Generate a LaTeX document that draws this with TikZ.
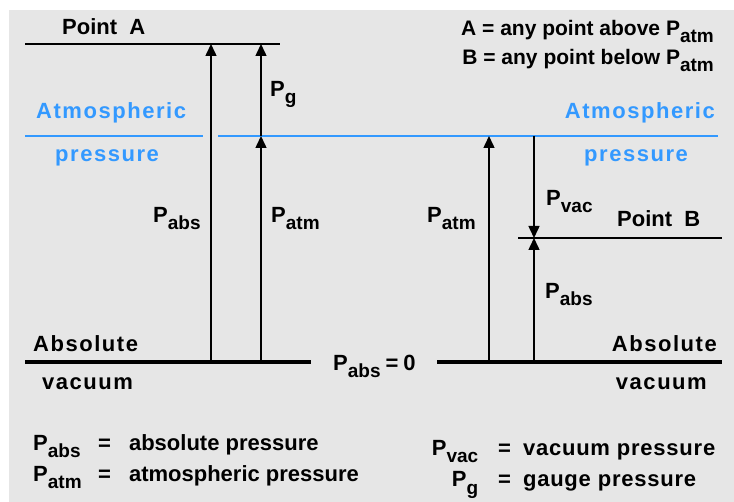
\documentclass[tikz,border=0pt]{standalone}
\usepackage{fontspec}
\setmainfont{Liberation Sans}
\newfontfamily\wideface[LetterSpace=7]{Liberation Sans}
\newfontfamily\keyface[LetterSpace=3.5]{Liberation Sans}
\usetikzlibrary{arrows.meta}
\definecolor{panel}{HTML}{E6E6E6}
\definecolor{atmo}{HTML}{3399FF}
\newcommand{\Psub}[1]{P\raisebox{-7pt}{\fontsize{19}{19}\selectfont #1}}

\begin{document}
\begin{tikzpicture}[x=1pt,y=-1pt,inner sep=0pt,
  font=\fontsize{22}{26}\selectfont\bfseries]
  \tikzset{word/.style={font=\wideface\fontsize{22}{26}\selectfont\bfseries},
    key/.style={font=\fontsize{21}{25}\selectfont\bfseries},
    level/.style={line width=1.3pt},
    atmline/.style={atmo,line width=2pt},
    floor/.style={line width=4.5pt},
    push/.style={line width=1.5pt,-{Triangle[length=12pt,width=11pt]}}}
  \useasboundingbox (0,0) rectangle (734,502);
  \fill[panel] (9,10) rectangle (734,502);

  % Reference levels: point A, atmospheric pressure, point B, absolute vacuum.
  \coordinate (A0) at (25,44);  \coordinate (A1) at (211,44);
  \coordinate (A2) at (261,44); \coordinate (A3) at (280,44);
  \draw[level] (A0) -- (A3);
  \coordinate (L0) at (25,136); \coordinate (L1) at (203,136);
  \coordinate (R0) at (218,136); \coordinate (M1) at (261,136);
  \coordinate (M2) at (489,136); \coordinate (M3) at (534,136);
  \coordinate (R1) at (718,136);
  \draw[atmline] (L0) -- (L1);
  \draw[atmline] (R0) -- (R1);
  \coordinate (B0) at (518,238); \coordinate (B1) at (534,238);
  \coordinate (B2) at (722,238);
  \draw[level] (B0) -- (B2);
  \coordinate (V0) at (25,362);  \coordinate (V1) at (211,362);
  \coordinate (V2) at (261,362); \coordinate (V3) at (311,362);
  \coordinate (W0) at (437,362); \coordinate (W1) at (489,362);
  \coordinate (W2) at (534,362); \coordinate (W3) at (722,362);
  \draw[floor] (V0) -- (V3);
  \draw[floor] (W0) -- (W3);

  % Pressure arrows.
  \draw[push] (V1) -- (A1);
  \draw[push] (V2) -- (M1);
  \draw[push] (M1) -- (A2);
  \draw[push] (W1) -- (M2);
  \draw[push] (M3) -- (B1);
  \draw[push] (W2) -- (B1);

  % Level names.
  \node[anchor=base west] (pointA) at (62,35) {Point~~A};
  \node[anchor=base west] (pointB) at (617,227) {Point~~B};
  \node[word,atmo,anchor=base west] (atmL) at (36,119) {Atmospheric};
  \node[word,atmo,anchor=base west] (presL) at (55,162) {pressure};
  \node[word,atmo,anchor=base east] (atmR) at (715,119) {Atmospheric};
  \node[word,atmo,anchor=base west] (presR) at (584,162) {pressure};
  \node[word,anchor=base west] (absL) at (33,352) {Absolute};
  \node[word,anchor=base west] (vacL) at (42,390) {vacuum};
  \node[word,anchor=base east] (absR) at (717,352) {Absolute};
  \node[word,anchor=base east] (vacR) at (707,390) {vacuum};
  \node[anchor=base west] (zero) at (333,371) {\Psub{abs}\hspace{5pt}=\hspace{5pt}0};

  % Arrow labels.
  \node[anchor=base west] (pabsL) at (153,223) {\Psub{abs}};
  \node[anchor=base west] (patmL) at (271,223) {\Psub{atm}};
  \node[anchor=base west] (pg) at (270,97) {\Psub{g}};
  \node[anchor=base west] (patmR) at (427,223) {\Psub{atm}};
  \node[anchor=base west] (pvac) at (546,206) {\Psub{vac}};
  \node[anchor=base west] (pabsR) at (545,299) {\Psub{abs}};

  % Keys.
  \node[key,anchor=base east] (keyA) at (714,36) {A = any point above \Psub{atm}};
  \node[key,anchor=base east] (keyB) at (714,65) {B = any point below \Psub{atm}};
  \node[anchor=base west] (legabs) at (33,451)
    {\makebox[65pt][l]{\Psub{abs}}=\hspace{18pt}absolute pressure};
  \node[anchor=base west] (legatm) at (33,482)
    {\makebox[65pt][l]{\Psub{atm}}=\hspace{18pt}atmospheric pressure};
  \node[anchor=base west] (legvac) at (416,456)
    {\makebox[62pt][r]{\Psub{vac}}\hspace{20pt}=\hspace{12pt}\keyface vacuum pressure};
  \node[anchor=base west] (legg) at (416,487)
    {\makebox[62pt][r]{\Psub{g}}\hspace{20pt}=\hspace{12pt}\keyface gauge pressure};
\end{tikzpicture}
\end{document}
